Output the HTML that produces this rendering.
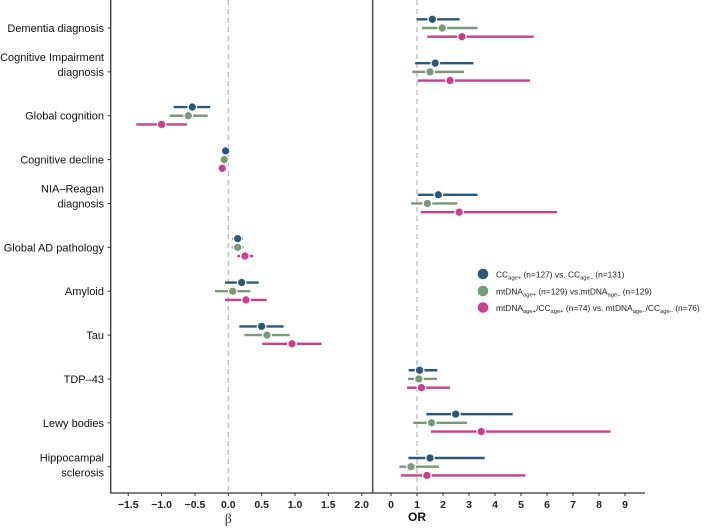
<!DOCTYPE html>
<html><head><meta charset="utf-8"><style>
html,body{margin:0;padding:0;background:#fff;}
svg{display:block;font-family:"Liberation Sans",sans-serif;}
</style></head><body>
<svg id="chart" width="708" height="529" viewBox="0 0 708 529"></svg>
<script>
const categories=["Dementia diagnosis","Cognitive Impairment diagnosis","Global cognition","Cognitive decline","NIA–Reagan diagnosis","Global AD pathology","Amyloid","Tau","TDP–43","Lewy bodies","Hippocampal sclerosis"];
const labelLines=[["Dementia diagnosis"],["Cognitive Impairment","diagnosis"],["Global cognition"],["Cognitive decline"],["NIA–Reagan","diagnosis"],["Global AD pathology"],["Amyloid"],["Tau"],["TDP–43"],["Lewy bodies"],["Hippocampal","sclerosis"]];
const panel=["OR","OR","beta","beta","OR","beta","beta","beta","OR","OR","OR"];
const ccEst=[1.59,1.70,-0.54,-0.04,1.82,0.14,0.20,0.50,1.10,2.49,1.50];
const ccLo=[0.99,0.93,-0.82,-0.06,1.03,0.06,-0.05,0.165,0.68,1.36,0.67];
const ccHi=[2.64,3.17,-0.27,-0.02,3.33,0.22,0.455,0.83,1.78,4.68,3.60];
const mtEst=[1.97,1.50,-0.60,-0.06,1.40,0.14,0.066,0.58,1.07,1.56,0.77];
const mtLo=[1.19,0.82,-0.88,-0.08,0.77,0.05,-0.20,0.24,0.65,0.86,0.32];
const mtHi=[3.33,2.81,-0.31,-0.04,2.55,0.23,0.33,0.92,1.77,2.92,1.85];
const bothEst=[2.73,2.27,-1.00,-0.09,2.62,0.25,0.265,0.955,1.17,3.47,1.38];
const bothLo=[1.40,1.03,-1.38,-0.11,1.15,0.135,-0.05,0.51,0.62,1.54,0.38];
const bothHi=[5.49,5.35,-0.62,-0.07,6.38,0.375,0.575,1.40,2.27,8.44,5.17];
const betaTicks=[-1.5,-1.0,-0.5,0.0,0.5,1.0,1.5,2.0];
const orTicks=[0,1,2,3,4,5,6,7,8,9];
const seriesNames=["cc","mtdna","combined"];
const colors=["#2b5877","#7b987a","#cc3d8e"];

const NS="http://www.w3.org/2000/svg";
const svg=document.getElementById("chart");
function el(tag,attrs,parent){const e=document.createElementNS(NS,tag);for(const k in attrs)e.setAttribute(k,attrs[k]);(parent||svg).appendChild(e);return e;}
const xBeta=v=>228.3+66.7*v;
const xOR=v=>391+26*v;
const yRow=i=>28+43.87*i;
const axisY=493;

let r1=el("line",{x1:xBeta(0),x2:xBeta(0),y1:0,y2:axisY,stroke:"#bbb","stroke-width":1.3,"stroke-dasharray":"5,4"});


let r2=el("line",{x1:xOR(1),x2:xOR(1),y1:0,y2:axisY,stroke:"#bbb","stroke-width":1.3,"stroke-dasharray":"5,4"});


let ya=el("line",{x1:110.7,x2:110.7,y1:0,y2:axisY+0.5,stroke:"#333","stroke-width":1.3});


let xa=el("line",{x1:110,x2:645,y1:axisY,y2:axisY,stroke:"#333","stroke-width":1.3});


let dv=el("line",{x1:372.7,x2:372.7,y1:0,y2:axisY,stroke:"#555","stroke-width":1.6});



categories.forEach((c,i)=>{
  const y=yRow(i);
  let t=el("line",{x1:107.5,x2:110.7,y1:y,y2:y,stroke:"#333","stroke-width":1});
  
  
  const lines=labelLines[i];
  let tx=el("text",{x:104,"text-anchor":"end","font-size":"11px",fill:"#111"});
  
  
  if(lines.length===1){tx.setAttribute("y",y+4);tx.textContent=lines[0];}
  else{
    const base = (i===10)? y-9 : y-15;
    lines.forEach((l,k)=>{const ts=el("tspan",{x:104,y:base+4+k*15},tx);ts.textContent=l;});
  }
});

betaTicks.forEach(v=>{
  const x=xBeta(v);
  let t=el("line",{x1:x,x2:x,y1:axisY,y2:axisY+3,stroke:"#333","stroke-width":1});
  
  
  let tx=el("text",{x:x,y:axisY+15,"text-anchor":"middle","font-size":"10.5px","font-weight":"bold",fill:"#222"});
  
  
  tx.textContent=(v<0?"−"+Math.abs(v).toFixed(1):v.toFixed(1));
});
orTicks.forEach(v=>{
  const x=xOR(v);
  let t=el("line",{x1:x,x2:x,y1:axisY,y2:axisY+3,stroke:"#333","stroke-width":1});
  
  
  let tx=el("text",{x:x,y:axisY+15,"text-anchor":"middle","font-size":"10.5px","font-weight":"bold",fill:"#222"});
  
  
  tx.textContent=String(v);
});
let bt=el("text",{x:xBeta(0),y:523,"text-anchor":"middle","font-size":"14px","font-family":"Liberation Serif, serif",fill:"#333"});


bt.textContent="β";
let ot=el("text",{x:xOR(1),y:521,"text-anchor":"middle","font-size":"12px","font-weight":"bold",fill:"#111"});


ot.textContent="OR";

const est=[ccEst,mtEst,bothEst],lo=[ccLo,mtLo,bothLo],hi=[ccHi,mtHi,bothHi];
const offs=[-8.7,0,8.7];
for(let s=0;s<3;s++){
  categories.forEach((c,i)=>{
    const sx=panel[i]==="OR"?xOR:xBeta;
    const y=yRow(i)+offs[s];
    let l=el("line",{x1:sx(lo[s][i]),x2:sx(hi[s][i]),y1:y,y2:y,stroke:colors[s],"stroke-width":2.4});
    
    
    let p=el("circle",{cx:sx(est[s][i]),cy:y,r:4.3,fill:colors[s],stroke:"#fff","stroke-width":1.3});
    
    
  });
}

const lg=el("g",{});


const legendHTML=[
 'CC<tspan font-size="5.8px" dy="2">age+</tspan><tspan dy="-2"> (n=127) vs. CC</tspan><tspan font-size="5.8px" dy="2">age–</tspan><tspan dy="-2"> (n=131)</tspan>',
 'mtDNA<tspan font-size="5.8px" dy="2">age+</tspan><tspan dy="-2"> (n=129) vs.mtDNA</tspan><tspan font-size="5.8px" dy="2">age–</tspan><tspan dy="-2"> (n=129)</tspan>',
 'mtDNA<tspan font-size="5.8px" dy="2">age+</tspan><tspan dy="-2">/CC</tspan><tspan font-size="5.8px" dy="2">age+</tspan><tspan dy="-2"> (n=74) vs. mtDNA</tspan><tspan font-size="5.8px" dy="2">age–</tspan><tspan dy="-2">/CC</tspan><tspan font-size="5.8px" dy="2">age–</tspan><tspan dy="-2"> (n=76)</tspan>'
];
[274,291,307.5].forEach((y,k)=>{
  let c=el("circle",{cx:483,cy:y,r:5.3,fill:colors[k]},lg);
  
  
  let t=el("text",{x:496,y:y+3.3,"font-size":"8.4px",fill:"#222"},lg);
  
  
  t.innerHTML=legendHTML[k];
});
</script>
</body></html>
